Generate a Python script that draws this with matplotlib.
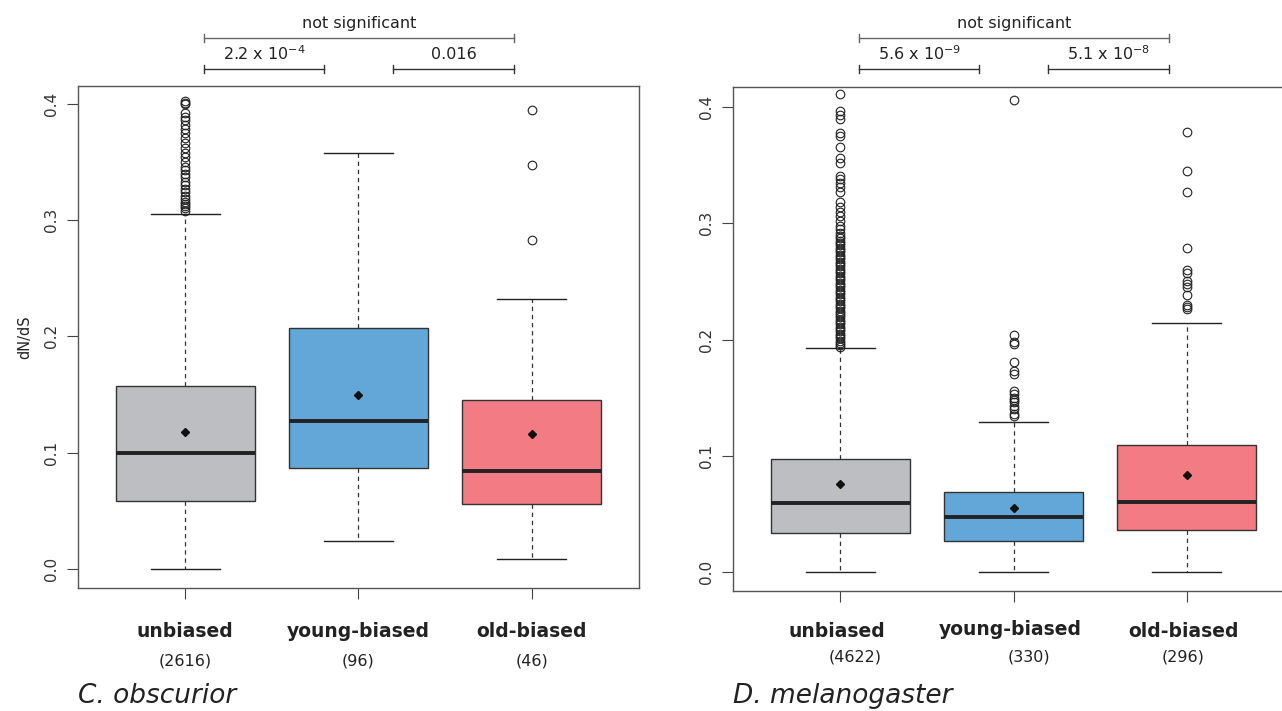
import matplotlib.pyplot as plt
import matplotlib.transforms as mtransforms

plt.rcParams['font.family'] = ['DejaVu Sans']

groups = ['unbiased', 'young-biased', 'old-biased']
colors = ['#bdbec2', '#63a7d9', '#f27b84']

# C. obscurior
obs_counts = ['(2616)', '(96)', '(46)']
obs_whislo = [0.0, 0.024, 0.0086]
obs_q1 = [0.0585, 0.0868, 0.056]
obs_med = [0.100, 0.127, 0.084]
obs_q3 = [0.157, 0.207, 0.145]
obs_whishi = [0.305, 0.358, 0.232]
obs_mean = [0.118, 0.150, 0.116]
obs_fliers = [
    [0.402, 0.401, 0.400, 0.392, 0.389, 0.386, 0.382, 0.378, 0.375, 0.371,
     0.366, 0.362, 0.358, 0.354, 0.350, 0.346, 0.343, 0.340, 0.337, 0.333,
     0.330, 0.327, 0.324, 0.321, 0.318, 0.316, 0.314, 0.312, 0.310, 0.308],
    [],
    [0.395, 0.347, 0.283],
]
obs_pvals = [r'2.2 x 10$^{\mathregular{-4}}$', '0.016', 'not significant']

# D. melanogaster
mel_counts = ['(4622)', '(330)', '(296)']
mel_whislo = [0.0, 0.0, 0.0]
mel_q1 = [0.0336, 0.0267, 0.0361]
mel_med = [0.0594, 0.0473, 0.0602]
mel_q3 = [0.0972, 0.0688, 0.109]
mel_whishi = [0.193, 0.129, 0.214]
mel_mean = [0.0757, 0.055, 0.0835]
mel_fliers = [
    [0.411, 0.397, 0.393, 0.390, 0.378, 0.375, 0.366, 0.356, 0.352, 0.341,
     0.338, 0.335, 0.331, 0.327, 0.318, 0.314, 0.310, 0.306, 0.302, 0.298,
     0.295, 0.292, 0.289, 0.287, 0.285, 0.283, 0.281, 0.279, 0.277, 0.275,
     0.273, 0.271, 0.269, 0.267, 0.265, 0.263, 0.261, 0.259, 0.257, 0.255,
     0.253, 0.251, 0.249, 0.247, 0.245, 0.243, 0.241, 0.239, 0.237, 0.235,
     0.233, 0.231, 0.229, 0.227, 0.225, 0.223, 0.221, 0.219, 0.217, 0.215,
     0.213, 0.211, 0.209, 0.207, 0.205, 0.203, 0.201, 0.199, 0.197, 0.195,
     0.194],
    [0.406, 0.204, 0.198, 0.196, 0.181, 0.173, 0.170, 0.156, 0.153, 0.150,
     0.148, 0.146, 0.143, 0.140, 0.136, 0.134],
    [0.379, 0.345, 0.327, 0.279, 0.260, 0.257, 0.250, 0.248, 0.245, 0.238,
     0.230, 0.228, 0.226],
]
mel_pvals = [r'5.6 x 10$^{\mathregular{-9}}$', r'5.1 x 10$^{\mathregular{-8}}$', 'not significant']


def panel(ax, whislo, q1, med, q3, whishi, mean, fliers, counts, pvals,
          species, ylims, label_x, count_x, label_y, count_y):
    stats = []
    for i in range(3):
        stats.append(dict(whislo=whislo[i], q1=q1[i], med=med[i], q3=q3[i],
                          whishi=whishi[i], mean=mean[i], fliers=fliers[i]))
    bp = ax.bxp(stats, positions=[1, 2, 3], widths=0.8, patch_artist=True,
                showmeans=True, showfliers=True,
                boxprops=dict(edgecolor='#333333', linewidth=1.0),
                medianprops=dict(color='#222222', linewidth=2.8),
                whiskerprops=dict(color='#333333', linewidth=0.9, linestyle=(0, (3.5, 3))),
                capprops=dict(color='#222222', linewidth=1.0),
                capwidths=0.4,
                meanprops=dict(marker='D', markersize=4.2, markerfacecolor='#111111',
                               markeredgecolor='#111111'),
                flierprops=dict(marker='o', markersize=6.2, markerfacecolor='none',
                                markeredgecolor='#222222', markeredgewidth=0.8))
    for patch, c in zip(bp['boxes'], colors):
        patch.set_facecolor(c)
    ax.set_xlim(0.38, 3.62)
    ax.set_ylim(*ylims)
    ax.set_xticks([1, 2, 3])
    ax.set_xticklabels([])
    ax.set_yticks([0.0, 0.1, 0.2, 0.3, 0.4])
    ax.set_yticklabels(['0.0', '0.1', '0.2', '0.3', '0.4'], rotation=90,
                       va='center', fontsize=11, color='#333333')
    ax.tick_params(direction='out', length=8, width=0.8, color='#444444')
    ax.tick_params(axis='y', pad=6)
    for s in ax.spines.values():
        s.set_color('#555555')
        s.set_linewidth(1.0)

    trans = mtransforms.blended_transform_factory(ax.transData, ax.figure.transFigure)
    for i in range(3):
        ax.text(label_x[i], label_y[i], groups[i], transform=trans, ha='center',
                va='center', fontsize=13.5, fontweight='bold', color='#222222')
        ax.text(count_x[i], count_y, counts[i], transform=trans, ha='center',
                va='center', fontsize=11.5, color='#222222')

    # significance brackets
    brackets = [(1.11, 1.80, 0.903), (2.20, 2.90, 0.903), (1.11, 2.90, 0.9466)]
    for (x0, x1, y), txt, lc in zip(brackets, pvals, ['#333333', '#333333', '#666666']):
        ax.plot([x0, x1], [y, y], color=lc, lw=1.0, transform=trans, clip_on=False)
        for xx in (x0, x1):
            ax.plot([xx, xx], [y - 0.006, y + 0.006], color=lc, lw=1.0,
                    transform=trans, clip_on=False)
        ax.text((x0 + x1) / 2, y + 0.021, txt, transform=trans, ha='center',
                va='center', fontsize=11.5, color='#222222')

    ax.text(0.0, 0.021, species, transform=mtransforms.blended_transform_factory(
        ax.transAxes, ax.figure.transFigure), ha='left', va='center',
        fontsize=19, style='italic', color='#222222')


fig = plt.figure(figsize=(12.82, 7.11), dpi=100)
ax1 = fig.add_axes([0.0608, 0.173, 0.4376, 0.706])
ax2 = fig.add_axes([0.5718, 0.1688, 0.4376, 0.7089])

panel(ax1, obs_whislo, obs_q1, obs_med, obs_q3, obs_whishi, obs_mean, obs_fliers,
      obs_counts, obs_pvals, 'C. obscurior', (-0.0163, 0.4153),
      [1, 2, 3], [1, 2, 3], [0.1125, 0.1125, 0.1125], 0.0703)
panel(ax2, mel_whislo, mel_q1, mel_med, mel_q3, mel_whishi, mel_mean, mel_fliers,
      mel_counts, mel_pvals, 'D. melanogaster', (-0.0164, 0.4174),
      [0.977, 1.98, 2.98], [1.087, 2.09, 2.98], [0.1125, 0.1153, 0.1125], 0.0759)

ax1.set_ylabel('dN/dS', fontsize=10.5, color='#222222', labelpad=8)

fig.savefig('out.png', dpi=100)
